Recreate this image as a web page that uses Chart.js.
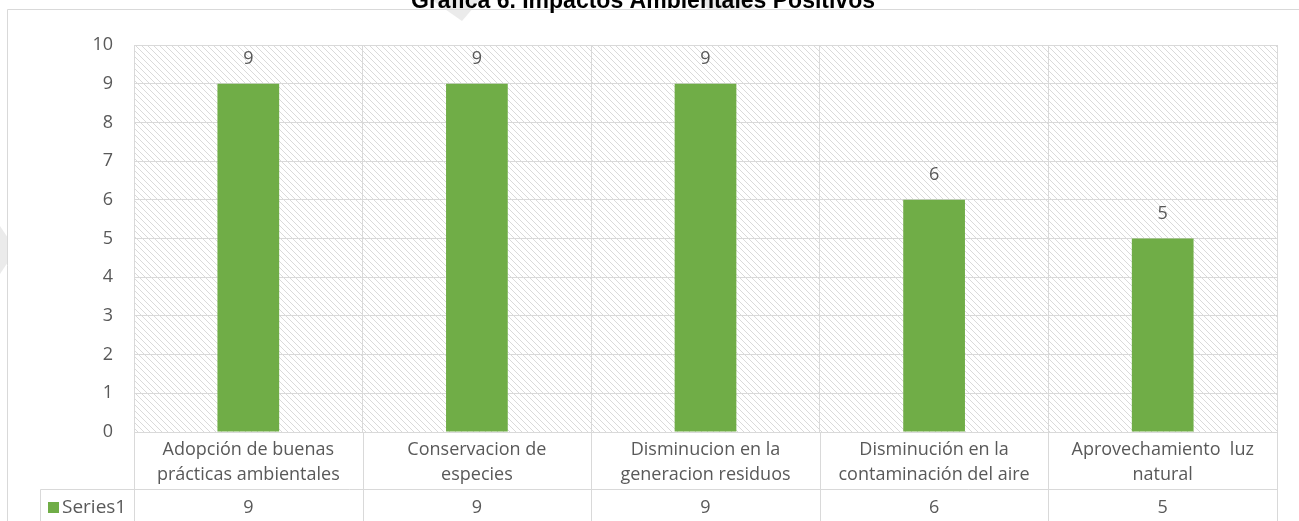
<!DOCTYPE html>
<html>
<head>
<meta charset="utf-8">
<script src="https://cdn.jsdelivr.net/npm/chart.js@4.4.1/dist/chart.umd.min.js"></script>
<style>
  html, body { margin: 0; padding: 0; background: #fff; }
  #wrap { position: relative; width: 1299px; height: 521px; }
</style>
</head>
<body>
<div id="wrap"><canvas id="chart" width="1299" height="521"></canvas></div>
<script>
// --- Data ---
const chartTitle = "Gráfica 6. Impactos Ambientales Positivos";
const categories = [
  ["Adopción de buenas", "prácticas ambientales"],
  ["Conservacion de", "especies"],
  ["Disminucion en la", "generacion residuos"],
  ["Disminución en la", "contaminación del aire"],
  ["Aprovechamiento  luz", "natural"]
];
const seriesName = "Series1";
const seriesValues = [9, 9, 9, 6, 5];
const yTicks = [0, 1, 2, 3, 4, 5, 6, 7, 8, 9, 10];

// --- Styles ---
const GREEN = "#70ad47";
const GRID = "#d9d9d9";
const TEXT = "#595959";
const FONT = "'Open Sans', 'DejaVu Sans', sans-serif";

function makeHatch() {
  const c = document.createElement("canvas");
  c.width = 6; c.height = 6;
  const g = c.getContext("2d");
  g.fillStyle = "#ffffff";
  g.fillRect(0, 0, 6, 6);
  g.strokeStyle = "#dadada";
  g.lineWidth = 1;
  g.beginPath();
  g.moveTo(-1, -1); g.lineTo(7, 7);
  g.stroke();
  return c;
}

// background: frame, hatch and title
const backdrop = {
  id: "backdrop",
  beforeDraw(chart) {
    const { ctx, chartArea: a, width, height } = chart;
    ctx.save();
    ctx.fillStyle = "#fff";
    ctx.fillRect(0, 0, width, height);
    // watermark fragments
    ctx.fillStyle = "#ebebeb";
    ctx.beginPath();
    ctx.moveTo(432, 0); ctx.lineTo(480, 0); ctx.lineTo(462, 21); ctx.closePath(); ctx.fill();
    ctx.beginPath();
    ctx.moveTo(700, 0); ctx.lineTo(748, 0); ctx.lineTo(756, 9); ctx.lineTo(708, 9); ctx.closePath(); ctx.fill();
    ctx.beginPath();
    ctx.moveTo(0, 226); ctx.lineTo(8, 238); ctx.lineTo(8, 262); ctx.lineTo(0, 274); ctx.closePath(); ctx.fill();
    // outer frame
    ctx.strokeStyle = GRID;
    ctx.lineWidth = 1;
    ctx.beginPath();
    ctx.moveTo(7.5, height + 5); ctx.lineTo(7.5, 9.5); ctx.lineTo(width + 5, 9.5);
    ctx.stroke();
    // hatched plot area
    ctx.fillStyle = ctx.createPattern(makeHatch(), "repeat");
    ctx.fillRect(a.left, a.top, a.right - a.left, a.bottom - a.top);
    // title (cut off at top)
    ctx.fillStyle = "#000";
    ctx.font = "bold 23px 'Liberation Sans', Arial, sans-serif";
    ctx.textAlign = "center";
    ctx.textBaseline = "alphabetic";
    ctx.fillText(chartTitle, 643, 8);
    ctx.restore();
  }
};

// value labels above bars + data table below the axis
const extras = {
  id: "extras",
  afterDraw(chart) {
    const { ctx, chartArea: a, height } = chart;
    const xs = chart.scales.x;
    const meta = chart.getDatasetMeta(0);
    const step = xs.getPixelForValue(1) - xs.getPixelForValue(0);
    const rowTop = 489.5;
    const rowMid = 508;
    ctx.save();
    ctx.font = "18px " + FONT;
    ctx.fillStyle = TEXT;
    ctx.textAlign = "center";
    ctx.textBaseline = "middle";
    meta.data.forEach((bar, i) => {
      ctx.fillText(String(seriesValues[i]), bar.x, bar.y - 25);
    });
    // table lines
    ctx.strokeStyle = GRID;
    ctx.lineWidth = 1;
    ctx.beginPath();
    for (let i = 0; i <= categories.length; i++) {
      const x = Math.round(xs.getPixelForValue(i) - step / 2) + 0.5;
      ctx.moveTo(x, a.bottom); ctx.lineTo(x, height + 5);
    }
    ctx.moveTo(40.5, rowTop); ctx.lineTo(Math.round(a.right) + 0.5, rowTop);
    ctx.moveTo(40.5, rowTop); ctx.lineTo(40.5, height + 5);
    ctx.stroke();
    // legend key + series row
    ctx.fillStyle = GREEN;
    ctx.fillRect(48, rowMid - 6, 11, 11);
    ctx.fillStyle = TEXT;
    ctx.textAlign = "left";
    ctx.font = "19px " + FONT;
    ctx.fillText(seriesName, 62, rowMid);
    ctx.font = "18px " + FONT;
    ctx.textAlign = "center";
    seriesValues.forEach((v, i) => {
      ctx.fillText(String(v), xs.getPixelForValue(i), rowMid);
    });
    ctx.restore();
  }
};

new Chart(document.getElementById("chart"), {
  type: "bar",
  data: {
    labels: categories,
    datasets: [{
      label: seriesName,
      data: seriesValues,
      backgroundColor: GREEN,
      borderWidth: 0,
      categoryPercentage: 1,
      barPercentage: 0.27
    }]
  },
  options: {
    responsive: false,
    animation: false,
    layout: { padding: { top: 45, right: 22, left: 0, bottom: 0 } },
    plugins: {
      legend: { display: false },
      title: { display: false },
      tooltip: { enabled: false }
    },
    scales: {
      x: {
        offset: true,
        grid: { color: GRID, offset: true, drawTicks: false },
        border: { color: GRID },
        ticks: {
          color: TEXT,
          font: { family: FONT, size: 18, lineHeight: "25px" },
          padding: 5,
          maxRotation: 0,
          autoSkip: false
        },
        afterFit(scale) { scale.height = 89; }
      },
      y: {
        min: 0,
        max: 10,
        afterBuildTicks(scale) { scale.ticks = yTicks.map(v => ({ value: v })); },
        grid: { color: GRID, drawTicks: false },
        border: { display: false },
        ticks: {
          color: TEXT,
          font: { family: FONT, size: 18 },
          padding: 21
        },
        afterFit(scale) { scale.width = 134; }
      }
    }
  },
  plugins: [backdrop, extras]
});
</script>
</body>
</html>
